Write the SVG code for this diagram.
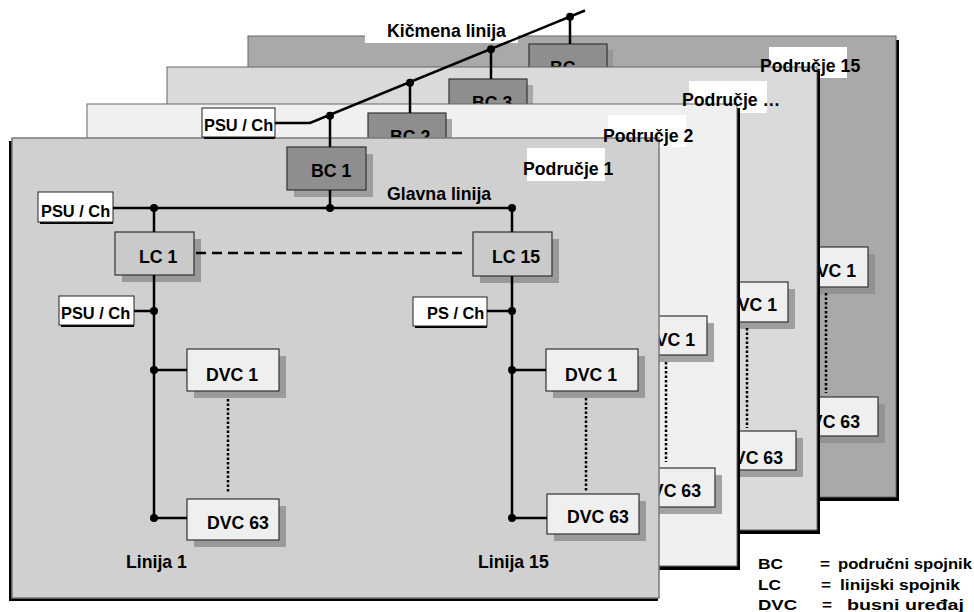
<svg xmlns="http://www.w3.org/2000/svg" width="974" height="612" viewBox="0 0 974 612">
<style>
.t{font-family:"Liberation Sans",Arial,Helvetica,sans-serif;font-weight:bold;font-size:17.7px;fill:#000}
.ps{font-size:16.4px}
.lg{font-size:15px}
.panel{stroke:#666;stroke-width:1}
.bc{fill:#8e8e8e;stroke:#333;stroke-width:1.2}
.lc{fill:#cacaca;stroke:#333;stroke-width:1.2}
.dvc{fill:#efefef;stroke:#333;stroke-width:1.2}
.psu{fill:#fff;stroke:#222;stroke-width:1}
.w{stroke:#000;stroke-width:2.5;fill:none}
.dash{stroke-dasharray:10 6}
.dot{stroke-dasharray:2.5 2}
.lbl{fill:#fff}
</style>
<rect width="974" height="612" fill="#fff"/>

<!-- Area 15 -->
<g id="area15">
  <rect x="251" y="40" width="648" height="461" fill="#000"/>
  <rect class="panel" x="248" y="36" width="648" height="461" fill="#a9a9a9"/>
  <rect class="lbl" x="769" y="47" width="78" height="31"/>
</g>
<g id="bc15">
  <rect x="535" y="50" width="78" height="43" fill="#979797"/>
  <rect class="bc" x="529" y="44" width="78" height="43"/>
  <text class="t" x="550" y="74">BC</text>
</g>
<g id="dvc1-15">
  <rect x="783" y="254" width="92" height="40" fill="#939393"/>
  <rect class="dvc" x="776" y="247" width="92" height="40"/>
  <text class="t" x="856" y="277" text-anchor="end">DVC 1</text>
</g>
<g id="dvc63-15">
  <rect x="793" y="404" width="92" height="39" fill="#939393"/>
  <rect class="dvc" x="786" y="397" width="92" height="39"/>
  <text class="t" x="860" y="428" text-anchor="end">DVC 63</text>
</g>

<!-- Area ... -->
<g id="areaN">
  <rect x="170" y="71" width="650" height="463" fill="#000"/>
  <rect class="panel" x="167" y="67" width="650" height="463" fill="#dadada"/>
  <rect class="lbl" x="689" y="81" width="78" height="32"/>
</g>
<g id="bc3">
  <rect x="455" y="85" width="78" height="43" fill="#a8a8a8"/>
  <rect class="bc" x="449" y="79" width="78" height="43"/>
  <text class="t" x="472" y="109">BC 3</text>
</g>
<g id="dvc1-N">
  <rect x="703" y="289" width="92" height="40" fill="#9f9f9f"/>
  <rect class="dvc" x="696" y="282" width="92" height="40"/>
  <text class="t" x="777" y="311" text-anchor="end">DVC 1</text>
</g>
<g id="dvc63-N">
  <rect x="711" y="438" width="92" height="39" fill="#9f9f9f"/>
  <rect class="dvc" x="704" y="431" width="92" height="39"/>
  <text class="t" x="783" y="464" text-anchor="end">DVC 63</text>
</g>

<!-- Area 2 -->
<g id="area2">
  <rect x="90" y="108" width="650" height="462" fill="#000"/>
  <rect class="panel" x="87" y="104" width="650" height="462" fill="#f0f0f0"/>
  <rect class="lbl" x="608" y="115" width="78" height="32"/>
</g>
<g id="bc2">
  <rect x="374" y="119" width="78" height="43" fill="#a8a8a8"/>
  <rect class="bc" x="368" y="113" width="78" height="43"/>
  <text class="t" x="390" y="143">BC 2</text>
</g>
<g id="dvc1-2">
  <rect x="622" y="323" width="92" height="39" fill="#a3a3a3"/>
  <rect class="dvc" x="615" y="316" width="92" height="39"/>
  <text class="t" x="695" y="346" text-anchor="end">DVC 1</text>
</g>
<g id="dvc63-2">
  <rect x="630" y="475" width="92" height="39" fill="#a3a3a3"/>
  <rect class="dvc" x="623" y="468" width="92" height="39"/>
  <text class="t" x="701" y="497" text-anchor="end">DVC 63</text>
</g>

<!-- Area 1 -->
<g id="area1">
  <rect x="9" y="141" width="649" height="460" fill="#000"/>
  <rect x="12" y="138" width="647" height="460" fill="#d0d0d0" stroke="#7a7a7a" stroke-width="1.5"/>
  <rect class="lbl" x="527" y="148" width="78" height="33"/>
  <text class="t" x="387" y="200">Glavna linija</text>
  <text class="t" x="126" y="568">Linija 1</text>
  <text class="t" x="478" y="568">Linija 15</text>
</g>
<g id="bc1">
  <rect x="294" y="154" width="79" height="43" fill="#9d9d9d"/>
  <rect class="bc" x="287" y="147" width="79" height="43"/>
  <text class="t" x="311" y="177">BC 1</text>
</g>
<g id="lc1">
  <rect x="122" y="239" width="79" height="43" fill="#9a9a9a"/>
  <rect class="lc" x="115" y="232" width="79" height="43"/>
  <text class="t" x="139" y="263">LC 1</text>
</g>
<g id="lc15">
  <rect x="480" y="239" width="79" height="44" fill="#9a9a9a"/>
  <rect class="lc" x="473" y="232" width="79" height="44"/>
  <text class="t" x="492" y="263">LC 15</text>
</g>
<g id="dvc1-l1">
  <rect x="194" y="356" width="92" height="42" fill="#9a9a9a"/>
  <rect class="dvc" x="187" y="349" width="92" height="42"/>
  <text class="t" x="206" y="381">DVC 1</text>
</g>
<g id="dvc63-l1">
  <rect x="194" y="506" width="92" height="41" fill="#9a9a9a"/>
  <rect class="dvc" x="187" y="499" width="92" height="41"/>
  <text class="t" x="207" y="529">DVC 63</text>
</g>
<g id="dvc1-l15">
  <rect x="553" y="356" width="92" height="42" fill="#9a9a9a"/>
  <rect class="dvc" x="546" y="349" width="92" height="42"/>
  <text class="t" x="565" y="381">DVC 1</text>
</g>
<g id="dvc63-l15">
  <rect x="554" y="501" width="92" height="40" fill="#9a9a9a"/>
  <rect class="dvc" x="547" y="494" width="92" height="40"/>
  <text class="t" x="567" y="523">DVC 63</text>
</g>
<g id="psu-main">
  <rect x="40" y="221" width="73" height="3" fill="#000"/>
  <rect class="psu" x="38" y="192" width="75" height="30"/>
  <text class="t ps" x="41" y="217">PSU / Ch</text>
</g>
<g id="psu-l1">
  <rect x="61" y="324" width="73" height="3" fill="#000"/>
  <rect class="psu" x="59" y="296" width="75" height="29"/>
  <text class="t ps" x="61" y="319">PSU / Ch</text>
</g>
<g id="ps-l15">
  <rect x="415" y="325" width="72" height="3" fill="#000"/>
  <rect class="psu" x="413" y="297" width="74" height="29"/>
  <text class="t ps" x="427" y="319">PS / Ch</text>
</g>
<g id="psu-backbone">
  <rect x="204" y="136" width="71" height="3" fill="#000"/>
  <rect class="psu" x="202" y="108" width="73" height="29"/>
  <text class="t ps" x="204" y="131">PSU / Ch</text>
</g>

<!-- area labels -->
<g id="area-labels">
  <text class="t" x="760" y="72">Područje 15</text>
  <text class="t" x="682" y="106">Područje …</text>
  <text class="t" x="603" y="142">Područje 2</text>
  <text class="t" x="523" y="175">Područje 1</text>
  <rect class="lbl" x="365" y="18" width="153" height="25"/>
  <text class="t" x="387" y="37">Kičmena linija</text>
</g>

<!-- connectors -->
<g id="connectors">
  <polyline class="w" points="275,123 310,123 585,10.5"/>
  <line class="w" x1="330" y1="116" x2="330" y2="147"/>
  <line class="w" x1="410" y1="83" x2="410" y2="113"/>
  <line class="w" x1="491" y1="49" x2="491" y2="79"/>
  <line class="w" x1="570" y1="17" x2="570" y2="44"/>
  <line class="w" x1="330" y1="190" x2="330" y2="208"/>
  <line class="w" x1="113" y1="208" x2="512" y2="208"/>
  <line class="w" x1="154" y1="208" x2="154" y2="232"/>
  <line class="w" x1="154" y1="275" x2="154" y2="518"/>
  <line class="w" x1="512" y1="208" x2="512" y2="232"/>
  <line class="w" x1="512" y1="276" x2="512" y2="518"/>
  <line class="w" x1="134" y1="311" x2="154" y2="311"/>
  <line class="w" x1="487" y1="311" x2="512" y2="311"/>
  <line class="w" x1="154" y1="370" x2="187" y2="370"/>
  <line class="w" x1="154" y1="518" x2="187" y2="518"/>
  <line class="w" x1="512" y1="370" x2="546" y2="370"/>
  <line class="w" x1="512" y1="518" x2="547" y2="518"/>
  <line class="w dash" x1="196" y1="253" x2="465" y2="253"/>
  <line class="w dot" x1="228" y1="399" x2="228" y2="493"/>
  <line class="w dot" x1="586" y1="398" x2="586" y2="491"/>
  <line class="w dot" x1="666" y1="362" x2="666" y2="462"/>
  <line class="w dot" x1="747" y1="328" x2="747" y2="428"/>
  <line class="w dot" x1="826" y1="293" x2="826" y2="393"/>
  <g fill="#000">
    <circle cx="330" cy="115.7" r="4"/>
    <circle cx="410" cy="82.7" r="4"/>
    <circle cx="491" cy="49.3" r="4"/>
    <circle cx="570" cy="16.7" r="4"/>
    <circle cx="154" cy="208" r="4"/>
    <circle cx="330" cy="208" r="4"/>
    <circle cx="512" cy="208" r="4"/>
    <circle cx="154" cy="311" r="4"/>
    <circle cx="512" cy="311" r="4"/>
    <circle cx="154" cy="370" r="4"/>
    <circle cx="154" cy="518" r="4"/>
    <circle cx="512" cy="370" r="4"/>
    <circle cx="512" cy="518" r="4"/>
  </g>
</g>

<!-- legend -->
<g id="legend">
  <text class="t lg" x="758" y="569" textLength="25" lengthAdjust="spacingAndGlyphs">BC</text>
  <text class="t lg" x="820" y="569" textLength="10" lengthAdjust="spacingAndGlyphs">=</text>
  <text class="t lg" x="838" y="569" textLength="134" lengthAdjust="spacingAndGlyphs">područni spojnik</text>
  <text class="t lg" x="758" y="590" textLength="23" lengthAdjust="spacingAndGlyphs">LC</text>
  <text class="t lg" x="821" y="590" textLength="10" lengthAdjust="spacingAndGlyphs">=</text>
  <text class="t lg" x="840" y="590" textLength="120" lengthAdjust="spacingAndGlyphs">linijski spojnik</text>
  <text class="t lg" x="758" y="610" textLength="39" lengthAdjust="spacingAndGlyphs">DVC</text>
  <text class="t lg" x="822" y="610" textLength="10" lengthAdjust="spacingAndGlyphs">=</text>
  <text class="t lg" x="847" y="610" textLength="117" lengthAdjust="spacingAndGlyphs">busni uređaj</text>
</g>
</svg>
